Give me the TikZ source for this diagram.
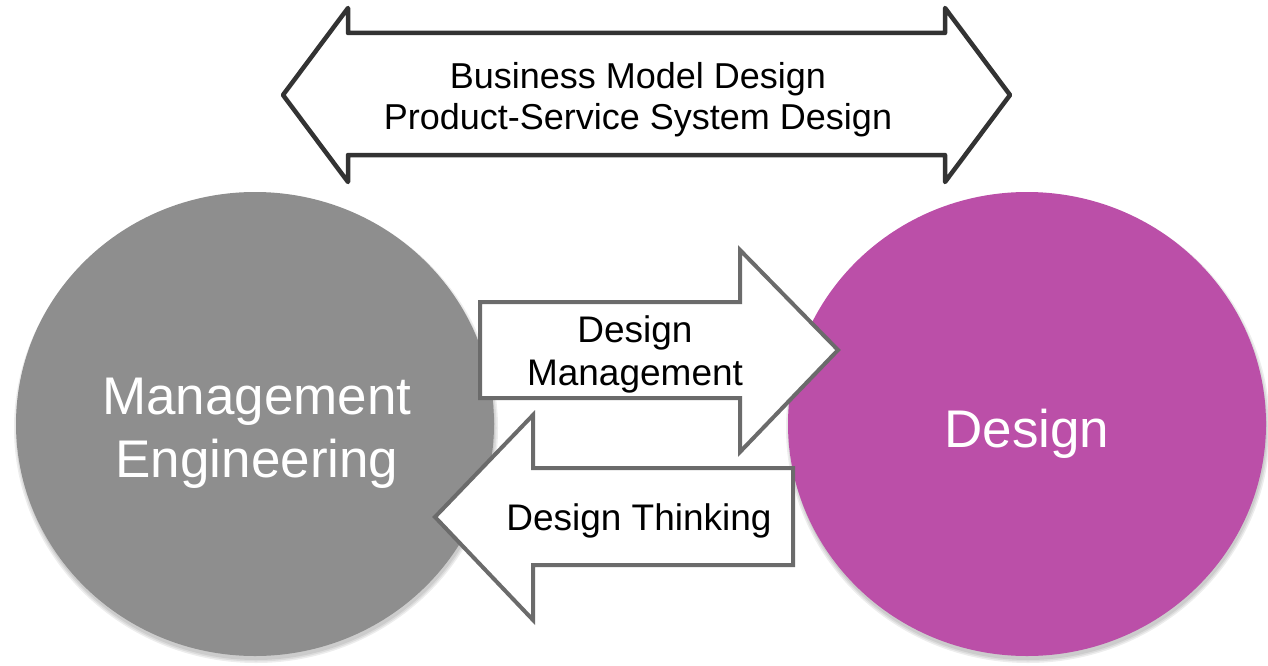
\documentclass[tikz,border=0pt]{standalone}
\usepackage{fontspec}
\usetikzlibrary{shapes.geometric}
\setmainfont{Liberation Sans}
\definecolor{mgray}{HTML}{8E8E8E}
\definecolor{mpurple}{HTML}{BB4FA8}
\definecolor{darkline}{HTML}{333333}
\definecolor{midline}{HTML}{6B6B6B}
\begin{document}
\begin{tikzpicture}[x=1pt,y=-1pt,
  circ/.style={ellipse,inner sep=0pt,minimum width=478pt,minimum height=464pt},
  shadowc/.style={fill=black,fill opacity=0.07},
  bigarrow/.style={draw=darkline,line width=4.5pt,fill=white,line join=round},
  midarrow/.style={draw=midline,line width=4pt,fill=white,line join=miter},
  lbl/.style={inner sep=0pt,align=center,font=\fontsize{36}{41}\selectfont},
  clbl/.style={inner sep=0pt,align=center,text=white,font=\fontsize{53}{63}\selectfont}]
\useasboundingbox (0,0) rectangle (1268,666);
% soft shadows
\foreach \d in {0,1.5,3}{
  \fill[shadowc] (256,428) ellipse ({239+\d} and {232+\d});
  \fill[shadowc] (1028,428) ellipse ({239+\d} and {232+\d});
}
% circles
\node[circ,fill=mgray] (me) at (255,424) {};
\node[circ,fill=mpurple] (de) at (1027,424) {};
% top double arrow
\draw[bigarrow] (283,95) -- (348,8) -- (348,33) -- (945,33) -- (945,8) -- (1010,95)
  -- (945,182) -- (945,155) -- (348,155) -- (348,182) -- cycle;
\node[lbl] (top) at (638,100) {Business Model Design\\Product-Service System Design};
% design management arrow (right)
\draw[midarrow] (480,302) -- (740,302) -- (740,250) -- (838,350) -- (740,452)
  -- (740,398) -- (480,398) -- cycle;
\node[lbl,font=\fontsize{37}{43}\selectfont] (dm) at (635,354) {Design\\Management};
% design thinking arrow (left)
\draw[midarrow] (793,468) -- (533,468) -- (533,415) -- (435,517) -- (533,620)
  -- (533,565) -- (793,565) -- cycle;
\node[lbl,anchor=base,font=\fontsize{37}{43}\selectfont] (dt) at (639,530) {Design Thinking};
% circle labels
\node[clbl] (mel) at (257,433) {Management\\Engineering};
\node[clbl,anchor=base] (del) at (1027,447) {Design};
\end{tikzpicture}
\end{document}
